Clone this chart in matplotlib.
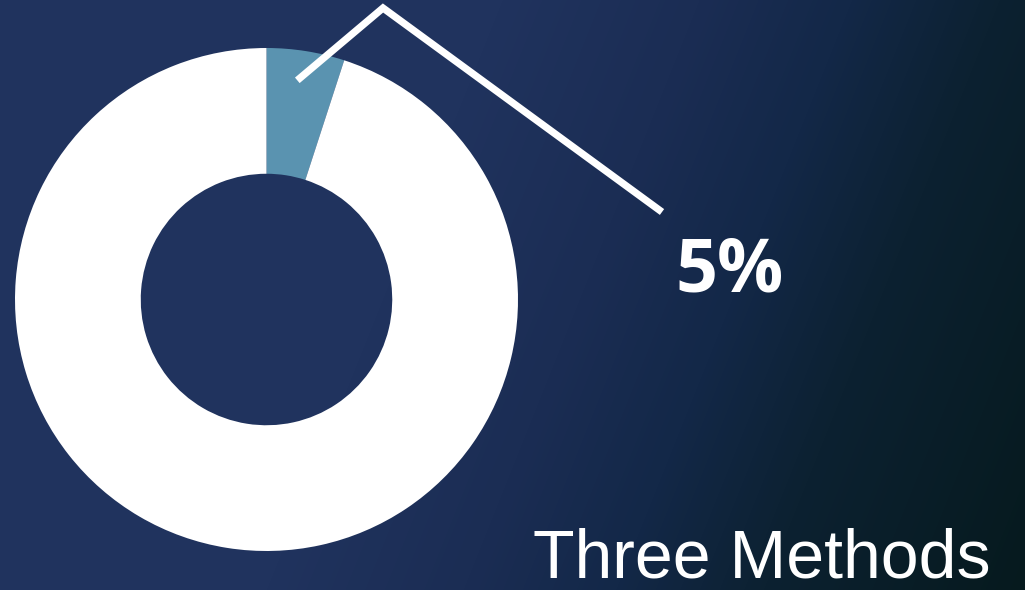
import numpy as np
import matplotlib.pyplot as plt
from matplotlib.colors import LinearSegmentedColormap

# share of the ring taken by the highlighted method
values = [5, 95]
colors = ["#5a93b0", "#ffffff"]
title = "Three Methods"

W, H = 1025, 590
fig = plt.figure(figsize=(W / 100, H / 100), dpi=100)
ax = fig.add_axes([0, 0, 1, 1])
ax.set_xlim(0, W)
ax.set_ylim(0, H)
ax.set_aspect("equal")
ax.axis("off")

# background: navy fading to dark teal towards the lower right
stops = [(0.0, "#20335e"), (500 / 1260, "#20335e"), (700 / 1260, "#1b2d54"),
         (850 / 1260, "#132848"), (1000 / 1260, "#0c2131"), (1.0, "#061a1e")]
cmap = LinearSegmentedColormap.from_list("bg", stops)
yy, xx = np.mgrid[0:H, 0:W]
t = xx + 0.4 * yy  # yy counts down from the top here
ax.imshow(t / 1260.0, cmap=cmap, vmin=0, vmax=1, extent=[0, W, 0, H],
          origin="upper", zorder=0)

cx, cy, R = 266.5, H - 299.5, 251.5
wedges, _ = ax.pie(values, colors=colors, startangle=90, counterclock=False,
                   center=(cx, cy), radius=R,
                   wedgeprops=dict(width=R * 0.5, linewidth=0))
for w in wedges:
    w.set_zorder(2)
ax.set_xlim(0, W)
ax.set_ylim(0, H)

# leader line from the small slice out to its label
mid = np.deg2rad(90 - values[0] / sum(values) * 360 / 2 + 1)
r0 = R * 0.88
p0 = (cx + r0 * np.cos(mid), cy + r0 * np.sin(mid))
ax.plot([p0[0], 383, 662], [p0[1], H - 8, H - 212], color="white", lw=5.2,
        solid_joinstyle="miter", solid_capstyle="butt", zorder=3)

ax.text(730, H - 273, f"{values[0]}%", color="white", fontsize=53,
        fontweight="bold", family="Open Sans", ha="center", va="center", zorder=4)
ax.text(762, H - 559, title, color="white", fontsize=49,
        family="Liberation Sans", ha="center", va="center", zorder=4)

fig.savefig("out.png", dpi=100)
